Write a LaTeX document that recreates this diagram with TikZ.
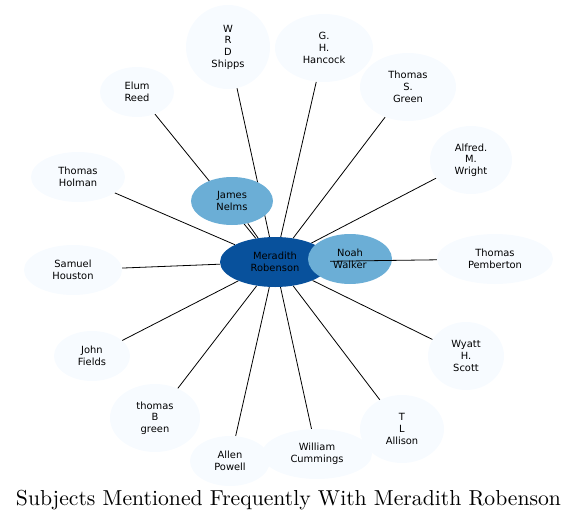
\documentclass[tikz,border=0pt]{standalone}
\usepackage{fontspec}
\newfontfamily\dvs{DejaVu Sans}
\usetikzlibrary{shapes.geometric,backgrounds}
\definecolor{lb}{HTML}{F7FBFF}
\definecolor{mb}{HTML}{6BAED6}
\definecolor{db}{HTML}{08519C}
\tikzset{
  ent/.style 2 args={ellipse, minimum width=#1, minimum height=#2, fill=lb, inner sep=0pt, align=center,
     font=\dvs\fontsize{9.9}{11.7}\selectfont},
  link/.style={draw=black, line width=0.8pt}
}
\begin{document}
\begin{tikzpicture}[x=1pt,y=-1pt]
\useasboundingbox (0,0) rectangle (577,522);
\node[ent={84pt}{84pt}] (shipps) at (228,47) {W\\R\\D\\Shipps};
\node[ent={98pt}{68pt}] (hancock) at (324,48) {G.\\H.\\Hancock};
\node[ent={96pt}{68pt}] (tsgreen) at (408,87) {Thomas\\S.\\Green};
\node[ent={82pt}{68pt}] (wright) at (471,160) {Alfred.\\M.\\Wright};
\node[ent={116pt}{50pt}] (pemberton) at (495,259) {Thomas\\Pemberton};
\node[ent={76pt}{68pt}] (scott) at (466,356) {Wyatt\\H.\\Scott};
\node[ent={84pt}{68pt}] (allison) at (402,429) {T\\L\\Allison};
\node[ent={110pt}{50pt}] (cummings) at (317,454) {William\\Cummings};
\node[ent={80pt}{50pt}] (powell) at (230,461) {Allen\\Powell};
\node[ent={90pt}{68pt}] (tbgreen) at (155,418) {thomas\\B\\green};
\node[ent={76pt}{50pt}] (fields) at (92,356) {John\\Fields};
\node[ent={98pt}{50pt}] (houston) at (73,270) {Samuel\\Houston};
\node[ent={94pt}{50pt}] (holman) at (78,177) {Thomas\\Holman};
\node[ent={74pt}{50pt}] (reed) at (137,92) {Elum\\Reed};
\node[ent={82pt}{48pt}, fill=mb] (nelms) at (232,201) {James\\Nelms};
\node[ent={110pt}{50pt}, fill=db] (center) at (275,262) {Meradith\\Robenson};
\node[ent={84pt}{50pt}, fill=mb] (walker) at (350,259) {Noah\\Walker};
\begin{pgfonlayer}{background}
\foreach \n in {shipps,hancock,tsgreen,wright,scott,allison,cummings,powell,tbgreen,fields,houston,holman,reed,nelms,walker}
  \draw[link] (\n) -- (center);
\end{pgfonlayer}
\draw[link] (pemberton) -- (center);
\node[anchor=base] (title) at (288.5,505) {\resizebox{545pt}{!}{Subjects Mentioned Frequently With Meradith Robenson}};
\end{tikzpicture}
\end{document}
